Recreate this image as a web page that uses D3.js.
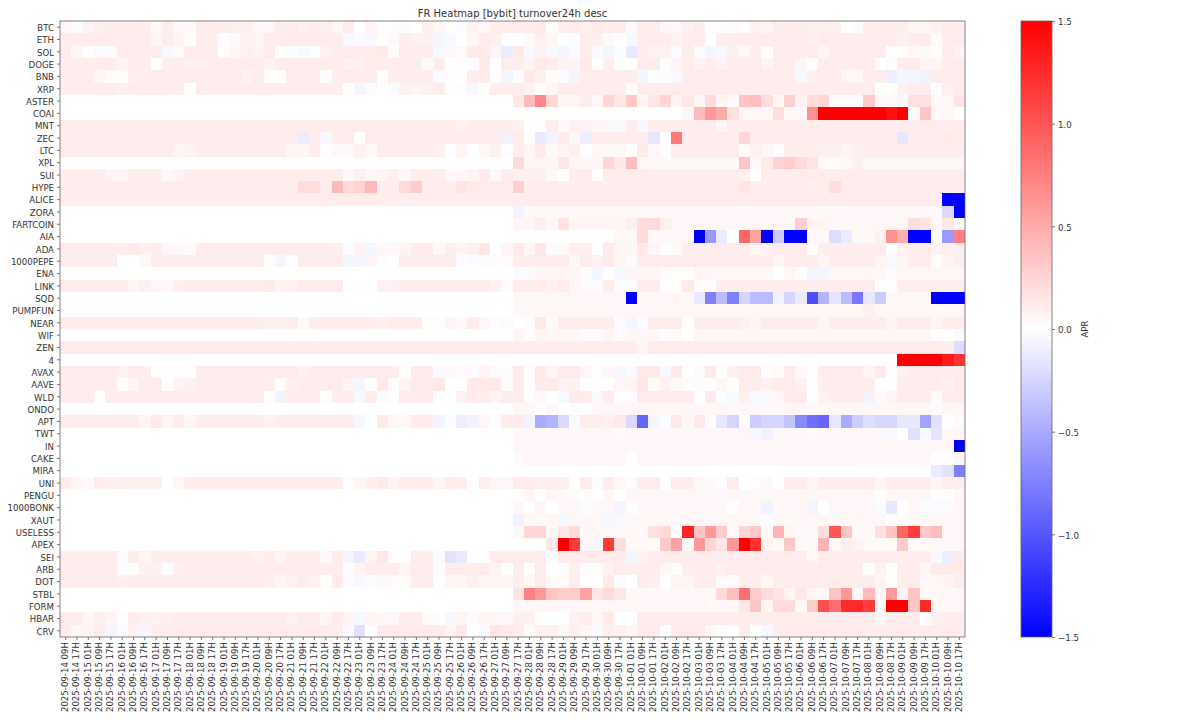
<!DOCTYPE html>
<html>
<head>
<meta charset="utf-8">
<script src="https://cdn.jsdelivr.net/npm/d3@7"></script>
<style>
html,body{margin:0;padding:0;background:#fff}
svg{display:block}
text{font-family:"DejaVu Sans",sans-serif;fill:#222}
</style>
</head>
<body>
<svg id="c" width="1200" height="720"></svg>
<script>
const titleText = "FR Heatmap [bybit] turnover24h desc";
const colorbarLabel = "APR";
const colorbarTicks = [-1.5,-1,-0.5,0,0.5,1,1.5];
const symbols = ["BTC","ETH","SOL","DOGE","BNB","XRP","ASTER","COAI","MNT","ZEC","LTC","XPL","SUI","HYPE","ALICE","ZORA","FARTCOIN","AIA","ADA","1000PEPE","ENA","LINK","SQD","PUMPFUN","NEAR","WIF","ZEN","4","AVAX","AAVE","WLD","ONDO","APT","TWT","IN","CAKE","MIRA","UNI","PENGU","1000BONK","XAUT","USELESS","APEX","SEI","ARB","DOT","STBL","FORM","HBAR","CRV"];
const timeLabels = ["2025-09-14 09H","2025-09-14 17H","2025-09-15 01H","2025-09-15 09H","2025-09-15 17H","2025-09-16 01H","2025-09-16 09H","2025-09-16 17H","2025-09-17 01H","2025-09-17 09H","2025-09-17 17H","2025-09-18 01H","2025-09-18 09H","2025-09-18 17H","2025-09-19 01H","2025-09-19 09H","2025-09-19 17H","2025-09-20 01H","2025-09-20 09H","2025-09-20 17H","2025-09-21 01H","2025-09-21 09H","2025-09-21 17H","2025-09-22 01H","2025-09-22 09H","2025-09-22 17H","2025-09-23 01H","2025-09-23 09H","2025-09-23 17H","2025-09-24 01H","2025-09-24 09H","2025-09-24 17H","2025-09-25 01H","2025-09-25 09H","2025-09-25 17H","2025-09-26 01H","2025-09-26 09H","2025-09-26 17H","2025-09-27 01H","2025-09-27 09H","2025-09-27 17H","2025-09-28 01H","2025-09-28 09H","2025-09-28 17H","2025-09-29 01H","2025-09-29 09H","2025-09-29 17H","2025-09-30 01H","2025-09-30 09H","2025-09-30 17H","2025-10-01 01H","2025-10-01 09H","2025-10-01 17H","2025-10-02 01H","2025-10-02 09H","2025-10-02 17H","2025-10-03 01H","2025-10-03 09H","2025-10-03 17H","2025-10-04 01H","2025-10-04 09H","2025-10-04 17H","2025-10-05 01H","2025-10-05 09H","2025-10-05 17H","2025-10-06 01H","2025-10-06 09H","2025-10-06 17H","2025-10-07 01H","2025-10-07 09H","2025-10-07 17H","2025-10-08 01H","2025-10-08 09H","2025-10-08 17H","2025-10-09 01H","2025-10-09 09H","2025-10-09 17H","2025-10-10 01H","2025-10-10 09H","2025-10-10 17H"];

// APR values, in hundredths, one array per symbol, one value per funding time
const BTC=[5,-2,7,9,11,11,11,11,4,10, 5,4,11,11,11,9,9,5,5,11, 11,8,11,10,5,11,0,7,-1,-1, -2,0,9,5,1,-2,8,5,11,11, 11,11,13,2,9,12,10,12,10,11, 3,11,11,5,5,8,11,2,2,3, 2,8,6,11,11,11,9,9,9,0, -2,11,11,11,11,6,6,8,11,11];
const ETH=[11,11,11,11,11,11,11,11,6,11, 7,2,11,10,-1,4,7,7,11,11, 11,11,11,11,11,-4,-3,-4,2,4, 10,8,8,-6,-4,0,6,11,9,-1, 0,4,8,6,-1,-3,11,8,3,1, -4,11,11,11,8,11,11,0,10,11, 11,11,11,11,11,11,8,11,11,11, 11,11,11,11,8,11,11,3,11,11];
const SOL=[11,5,0,-3,2,11,11,11,11,-4, 3,11,11,11,1,6,8,7,11,1, -2,-4,-1,8,11,11,11,11,13,1, 11,11,11,-4,4,3,13,13,6,-11, 13,-4,8,-4,-6,-3,11,-3,-6,-3, -13,11,8,8,-3,11,-2,-6,-4,9, 5,11,0,11,11,11,11,6,11,11, 11,11,11,1,1,5,4,2,11,7];
const DOGE=[11,11,11,11,11,7,11,11,0,9, 11,8,8,11,11,11,11,11,7,11, 11,11,11,11,11,7,8,11,11,11, 11,11,3,11,1,-1,-1,13,0,11, 11,7,13,11,7,7,13,0,11,-1, 0,11,11,-1,7,11,7,11,7,11, 11,11,6,11,11,6,0,11,11,11, 11,11,0,-2,12,12,6,6,11,11];
const BNB=[11,11,11,6,2,2,9,10,11,11, 11,11,11,11,11,11,7,11,1,1, 11,11,11,-2,11,11,11,11,0,11, 11,11,11,-3,2,0,11,11,2,-6, -1,13,9,2,-3,-6,11,11,11,11, 11,-6,-1,-2,-4,11,11,11,11,11, 11,11,11,11,11,-4,9,11,11,5, 5,11,11,-10,-6,-6,-8,11,11,11];
const XRP=[11,11,11,11,11,9,11,10,10,11, 11,0,11,11,11,11,11,11,11,11, 11,11,11,11,11,0,-6,-3,0,-3, 8,7,9,12,2,-1,-5,0,11,11, 11,8,-1,6,11,11,11,11,11,11, 3,11,11,11,11,11,11,11,11,11, 11,11,11,11,11,11,11,11,11,11, 11,11,0,0,8,11,11,0,8,11];
const ASTER=[0,0,0,0,0,0,0,0,0,0, 0,0,0,0,0,0,0,0,0,0, 0,0,0,0,0,0,0,0,0,0, 0,0,0,0,0,0,0,0,0,0, 14,40,70,25,6,6,11,5,25,15, 32,6,15,25,6,14,6,22,6,4, 35,38,20,5,28,8,20,25,3,3, 3,30,4,4,4,18,18,5,5,14];
const COAI=[0,0,0,0,0,0,0,0,0,0, 0,0,0,0,0,0,0,0,0,0, 0,0,0,0,0,0,0,0,0,0, 0,0,0,0,0,0,0,0,0,0, 0,0,0,0,0,0,0,0,0,0, 0,0,0,0,0,5,40,60,50,18, 5,5,5,20,4,4,65,150,150,150, 150,150,150,140,150,4,35,5,5,0];
const MNT=[11,11,11,11,11,11,11,11,11,11, 11,11,11,11,11,11,11,11,11,11, 11,11,11,11,11,11,11,11,11,11, 11,11,11,11,11,8,11,11,11,11, 9,0,0,12,4,8,8,6,-4,4, 11,-5,11,11,11,11,11,11,5,11, 11,11,11,11,11,11,11,11,11,11, 11,11,11,11,11,11,11,11,11,11];
const ZEC=[11,11,11,11,11,11,11,11,11,11, 11,11,11,11,11,11,11,11,11,11, 11,-11,11,-5,11,11,0,11,11,11, 11,11,11,11,11,11,11,11,11,-8, 12,-1,-13,-7,12,5,-10,11,11,11, 11,11,-15,-1,78,11,11,11,11,11, 24,11,11,11,11,11,11,11,11,11, 11,11,11,11,-15,11,11,11,13,11];
const LTC=[11,11,11,11,11,11,11,11,11,11, 6,8,11,11,11,11,11,11,11,11, 6,6,11,2,5,4,8,5,11,11, 11,11,11,9,-1,6,0,5,9,-1, 11,6,13,4,7,9,-1,5,5,4, 1,13,5,-1,11,11,11,11,11,11, 3,8,5,-1,11,11,11,9,10,6, 8,11,11,11,11,11,11,11,11,11];
const XPL=[0,0,0,0,0,0,0,0,0,0, 0,0,0,0,0,0,0,0,0,0, 0,0,0,0,0,0,0,0,0,0, 0,0,0,0,0,0,0,0,0,0, 22,6,6,6,14,6,6,6,24,14, 38,5,4,4,4,4,4,4,4,4, 35,4,13,26,30,22,16,3,3,4, 9,4,4,4,4,4,4,4,4,4];
const SUI=[11,11,11,11,6,6,10,10,10,4, 6,11,11,11,11,11,11,11,11,11, 11,11,11,11,11,5,9,5,6,9, 5,11,11,10,4,4,7,12,3,11, 9,9,9,4,0,11,11,0,11,11, 11,11,11,11,11,11,11,11,11,11, 9,0,11,11,11,11,11,11,11,11, 11,11,11,11,11,11,11,11,11,11];
const HYPE=[11,11,11,11,11,11,11,11,11,11, 11,11,11,11,11,11,11,11,11,11, 11,20,20,11,40,22,26,42,11,11, 22,30,11,11,11,16,13,11,11,11, 28,11,11,11,11,11,11,11,11,11, 11,11,11,11,11,11,11,11,11,11, 16,11,11,11,11,11,9,11,20,11, 11,11,11,11,11,11,11,11,11,11];
const ALICE=[11,11,11,11,11,11,11,11,11,11, 11,11,11,11,11,11,11,11,11,11, 11,11,11,11,11,11,11,11,11,11, 11,11,11,11,11,11,11,11,11,11, 11,11,11,11,11,11,11,11,11,11, 11,11,11,11,11,11,11,11,11,11, 11,11,11,11,11,11,11,11,11,11, 11,11,11,11,11,11,11,11,-150,-150];
const ZORA=[0,0,0,0,0,0,0,0,0,0, 0,0,0,0,0,0,0,0,0,0, 0,0,0,0,0,0,0,0,0,0, 0,0,0,0,0,0,0,0,0,0, -7,4,4,4,4,4,4,4,4,4, 4,4,4,4,4,4,4,4,4,4, 4,4,4,4,4,4,4,4,4,4, 4,4,4,4,4,4,4,4,-22,-150];
const FARTCOIN=[0,0,0,0,0,0,0,0,0,0, 0,0,0,0,0,0,0,0,0,0, 0,0,0,0,0,0,0,0,0,0, 0,0,0,0,0,0,0,0,0,0, 5,5,11,5,16,6,6,6,6,6, 9,20,22,9,5,5,5,5,5,5, 5,5,5,5,5,28,7,7,5,5, 5,5,5,5,5,20,16,5,14,5];
const AIA=[0,0,0,0,0,0,0,0,0,0, 0,0,0,0,0,0,0,0,0,0, 0,0,0,0,0,0,0,0,0,0, 0,0,0,0,0,0,0,0,0,0, 0,0,0,0,0,0,0,0,0,5, 5,22,4,4,4,5,-150,-60,-12,0, 90,55,-150,-30,-150,-150,4,4,-20,-12, 4,4,8,65,48,-150,-150,0,-60,75];
const ADA=[11,11,11,11,11,10,13,8,11,5, 5,3,11,11,11,11,11,11,11,11, 11,11,11,11,10,-2,7,-6,5,5, 7,12,12,4,10,6,9,14,1,6, 12,4,14,3,4,11,9,0,12,6, 5,13,6,0,3,10,10,11,11,11, 11,5,8,11,11,11,1,11,11,11, 11,11,11,1,8,11,11,8,10,10];
const PEPE1000=[11,11,11,11,11,0,0,4,11,11, 11,11,11,11,11,11,11,11,0,-6, -1,11,11,11,11,-6,-6,7,-2,0, 11,11,11,11,11,-1,-3,-3,3,3, 11,11,11,11,11,5,12,8,12,6, -3,11,11,11,11,11,11,11,11,11, 11,11,11,6,11,11,11,6,11,11, 11,11,7,-4,6,11,11,2,7,10];
const ENA=[0,0,0,0,0,0,0,0,0,0, 0,0,0,0,0,0,0,0,0,0, 0,0,0,0,0,0,0,0,0,0, 0,0,0,0,0,0,0,0,0,0, -3,-3,6,6,6,6,-2,-6,1,-5, 6,6,6,3,2,2,6,5,5,5, 5,5,5,0,5,0,-6,-6,5,5, 5,5,5,-2,5,5,5,5,5,5];
const LINK=[11,11,11,11,11,11,6,9,5,4, 9,11,11,11,11,11,11,11,13,7, 8,12,12,12,12,-1,1,0,8,8, 11,11,11,11,11,11,11,11,8,-2, 11,11,11,8,12,5,-2,-2,11,-2, -2,12,11,1,1,13,3,1,11,11, 11,11,11,11,11,11,11,11,11,11, 11,11,0,1,10,10,10,10,10,10];
const SQD=[0,0,0,0,0,0,0,0,0,0, 0,0,0,0,0,0,0,0,0,0, 0,0,0,0,0,0,0,0,0,0, 0,0,0,0,0,0,0,0,0,0, 5,5,5,5,5,5,5,5,5,5, -150,5,5,5,5,5,-13,-75,-40,-75, -25,-40,-40,-8,-25,-13,-105,-45,-16,-40, -80,-15,-30,5,5,5,5,-150,-150,-150];
const PUMPFUN=[0,0,0,0,0,0,0,0,0,0, 0,0,0,0,0,0,0,0,0,0, 0,0,0,0,0,0,0,0,0,0, 0,0,0,0,0,0,0,0,0,0, 5,5,5,5,5,5,5,5,5,5, 5,5,5,5,5,5,5,5,5,5, 5,5,5,5,5,5,5,5,5,5, 5,9,5,5,5,5,5,5,5,5];
const NEAR=[11,11,11,11,11,11,11,11,11,11, 11,11,11,11,11,11,11,11,9,9, 11,3,11,11,11,11,11,11,8,11, 11,11,2,2,7,4,12,5,1,-3, 0,-2,13,3,11,11,11,11,11,-3, -6,-2,11,11,11,0,11,11,11,11, 9,6,11,11,11,11,11,6,11,11, 11,11,11,6,11,11,11,7,11,11];
const WIF=[0,0,0,0,0,0,0,0,0,0, 0,0,0,0,0,0,0,0,0,0, 0,0,0,0,0,0,0,0,0,0, 0,0,0,0,0,0,0,0,0,0, 6,2,7,6,5,5,-3,-3,7,3, 5,5,5,-1,3,0,6,5,5,5, 5,5,5,5,5,5,5,5,5,5, 5,5,5,5,5,5,5,0,0,-3];
const ZEN=[11,11,11,11,11,11,11,11,11,11, 11,11,11,11,11,11,11,11,11,11, 11,11,11,11,11,11,11,11,11,11, 11,11,11,11,11,11,11,11,11,11, 11,11,11,11,11,11,11,11,11,11, 11,6,11,11,11,11,11,11,11,11, 11,11,11,11,11,11,11,11,11,11, 11,11,11,11,11,11,11,11,11,-20];
const FOUR=[0,0,0,0,0,0,0,0,0,0, 0,0,0,0,0,0,0,0,0,0, 0,0,0,0,0,0,0,0,0,0, 0,0,0,0,0,0,0,0,0,0, 0,0,0,0,0,0,0,0,0,0, 0,0,0,0,0,0,0,0,0,0, 0,0,0,0,0,0,0,0,0,0, 0,0,0,0,150,150,150,150,135,120];
const AVAX=[11,11,11,11,11,8,11,11,0,1, 2,-1,11,11,11,11,11,11,11,11, 11,8,11,11,11,11,11,11,11,11, 1,12,12,-3,4,3,-2,7,-2,-2, 12,2,13,6,12,12,5,-1,5,-5, -3,13,13,-4,13,1,-3,12,0,9, 12,12,-1,3,12,4,-1,11,11,11, 11,6,13,0,9,11,11,11,11,11];
const AAVE=[11,11,11,11,11,2,6,11,11,0, 7,8,11,11,11,11,11,11,9,2, 8,11,11,11,11,6,-6,0,13,2, 7,12,12,13,0,0,13,13,13,-2, 12,2,12,12,8,8,-1,1,1,5, 6,14,3,8,4,2,-2,1,5,1, 12,11,8,12,12,8,0,11,11,11, 11,11,1,1,11,11,11,11,8,12];
const WLD=[11,11,11,0,11,11,11,11,11,11, 11,11,11,11,11,11,11,11,0,-7, 11,11,11,2,11,12,-4,12,-3,1, 12,12,12,-1,0,8,12,12,6,12, 12,-1,5,0,-4,12,12,-4,12,-1, -1,12,12,12,12,12,0,12,-1,-4, 9,-4,-4,5,12,12,-1,8,11,11, 11,-7,4,7,11,11,11,-2,11,11];
const ONDO=[0,0,0,0,0,0,0,0,0,0, 0,0,0,0,0,0,0,0,0,0, 0,0,0,0,0,0,0,0,0,0, 0,0,0,0,0,0,0,0,0,0, 5,5,1,5,0,-1,0,5,5,5, 5,5,5,5,5,5,5,5,5,5, 5,5,5,5,5,5,5,5,5,5, 5,5,5,5,5,5,5,3,5,5];
const APT=[11,11,11,11,11,11,11,6,13,6, 11,6,11,11,11,11,11,11,8,11, 11,11,11,11,11,11,-5,0,13,5, 4,12,12,-7,-2,-10,-7,5,-2,12, 12,-7,-50,-45,-22,-4,12,10,8,13, -22,-90,-6,-2,13,5,13,2,-14,-25, 1,-30,-25,-25,-35,-70,-85,-90,-14,-50, -30,-20,-24,-24,-14,-14,-55,-18,1,-3];
const TWT=[0,0,0,0,0,0,0,0,0,0, 0,0,0,0,0,0,0,0,0,0, 0,0,0,0,0,0,0,0,0,0, 0,0,0,0,0,0,0,0,0,0, 5,5,5,5,5,5,5,5,5,3, 5,5,5,5,5,5,5,5,5,5, 5,-5,-7,5,5,5,3,5,5,5, 5,5,5,-4,1,-18,-4,-16,5,5];
const IN=[0,0,0,0,0,0,0,0,0,0, 0,0,0,0,0,0,0,0,0,0, 0,0,0,0,0,0,0,0,0,0, 0,0,0,0,0,0,0,0,0,0, 5,5,5,5,5,5,5,5,5,5, 5,5,5,5,5,5,5,5,5,5, 5,5,5,5,5,5,5,5,5,5, 5,5,5,5,5,5,5,5,5,-150];
const CAKE=[0,0,0,0,0,0,0,0,0,0, 0,0,0,0,0,0,0,0,0,0, 0,0,0,0,0,0,0,0,0,0, 0,0,0,0,0,0,0,0,0,0, -3,5,5,5,5,5,5,5,5,5, 1,5,5,5,5,5,5,5,5,5, 5,5,5,5,5,5,5,5,5,5, 5,5,5,5,5,5,5,-1,-1,5];
const MIRA=[0,0,0,0,0,0,0,0,0,0, 0,0,0,0,0,0,0,0,0,0, 0,0,0,0,0,0,0,0,0,0, 0,0,0,0,0,0,0,0,0,0, 0,0,0,0,0,0,0,0,0,0, 0,0,0,0,0,0,0,0,0,0, 0,0,0,0,0,0,0,0,0,0, 1,1,1,1,1,1,1,-12,-18,-75];
const UNI=[11,6,3,11,8,9,10,9,9,0, 5,11,11,11,11,11,11,11,11,11, 11,11,11,11,11,-1,6,9,13,7, 11,11,11,6,12,10,0,10,5,5, 12,12,10,10,10,0,12,-2,12,5, -2,11,12,0,11,11,5,3,-1,12, 0,2,4,0,11,11,6,11,11,11, 11,11,6,11,11,11,11,6,10,10];
const PENGU=[0,0,0,0,0,0,0,0,0,0, 0,0,0,0,0,0,0,0,0,0, 0,0,0,0,0,0,0,0,0,0, 0,0,0,0,0,0,0,0,0,0, 2,6,1,6,4,-2,2,1,5,0, 5,5,5,5,5,5,5,5,5,5, 5,5,5,5,5,5,5,5,5,5, 5,5,-1,5,5,5,5,1,1,5];
const BONK1000=[0,0,0,0,0,0,0,0,0,0, 0,0,0,0,0,0,0,0,0,0, 0,0,0,0,0,0,0,0,0,0, 0,0,0,0,0,0,0,0,0,0, 5,0,6,0,5,5,-2,5,5,-6, -1,5,5,5,5,5,5,5,5,1, 5,5,-8,5,5,5,-6,0,5,5, 5,5,-3,-14,1,5,-3,-3,-3,5];
const XAUT=[0,0,0,0,0,0,0,0,0,0, 0,0,0,0,0,0,0,0,0,0, 0,0,0,0,0,0,0,0,0,0, 0,0,0,0,0,0,0,0,0,0, -8,5,3,6,-5,5,5,5,-5,-4, 5,5,5,5,5,5,5,5,5,5, 5,5,-3,5,3,5,5,5,5,5, 5,5,5,2,2,5,5,5,5,5];
const USELESS=[0,0,0,0,0,0,0,0,0,0, 0,0,0,0,0,0,0,0,0,0, 0,0,0,0,0,0,0,0,0,0, 0,0,0,0,0,0,0,0,0,0, 5,24,24,5,14,22,5,5,5,5, 5,5,18,22,1,130,35,60,30,3, 24,32,3,45,6,4,4,20,100,33, 3,4,18,35,90,115,32,38,5,5];
const APEX=[0,0,0,0,0,0,0,0,0,0, 0,0,0,0,0,0,0,0,0,0, 0,0,0,0,0,0,0,0,0,0, 0,0,0,0,0,0,0,0,0,0, 0,0,0,14,150,115,4,4,115,20, 4,4,4,30,55,3,60,25,15,60, 150,120,6,4,32,4,4,45,4,10, 7,4,4,4,30,4,4,4,4,4];
const SEI=[11,11,11,11,11,-2,12,6,11,11, 11,11,11,11,11,11,11,8,12,6, 11,11,11,4,12,-6,-13,7,14,1, 2,12,12,-3,-17,-13,-1,0,12,12, 12,12,12,-2,12,12,12,12,12,12, -6,8,11,11,11,11,11,11,11,11, 11,11,11,11,11,11,4,11,11,11, 11,11,11,11,11,11,11,-4,-10,12];
const ARB=[11,11,11,11,11,-2,0,9,8,-2, 8,11,11,11,11,11,11,11,11,11, 11,11,11,11,11,-1,7,11,11,11, 7,11,11,-2,11,11,11,11,7,0, 11,0,11,0,-1,10,-2,2,7,11, 11,11,11,5,2,10,10,10,7,11, 11,11,11,11,11,11,11,11,11,11, 11,0,8,0,11,11,6,12,12,12];
const DOT=[11,11,11,11,11,9,11,11,11,11, 11,11,11,11,11,11,11,11,9,6, 8,11,8,2,12,-2,-4,-2,4,3, 3,11,11,1,6,6,9,6,6,6, 11,5,12,3,3,11,0,0,13,-3, 0,11,9,0,7,6,11,11,3,3, 11,11,6,11,11,11,11,11,11,11, 11,11,7,0,11,11,5,5,7,11];
const STBL=[0,0,0,0,0,0,0,0,0,0, 0,0,0,0,0,0,0,0,0,0, 0,0,0,0,0,0,0,0,0,0, 0,0,0,0,0,0,0,0,0,0, 17,75,60,35,30,30,55,15,22,15, 4,4,4,4,4,4,4,4,22,38, 85,30,22,16,6,14,5,4,35,60, 5,40,5,60,5,35,4,4,4,4];
const FORM=[0,0,0,0,0,0,0,0,0,0, 0,0,0,0,0,0,0,0,0,0, 0,0,0,0,0,0,0,0,0,0, 0,0,0,0,0,0,0,0,0,0, 5,5,5,5,5,5,5,5,5,5, 5,5,5,5,5,5,5,5,5,5, 14,35,5,22,22,5,30,105,85,125, 125,115,4,150,150,35,125,5,5,5];
const HBAR=[11,11,5,10,6,2,11,9,8,9, 11,11,11,11,11,11,11,11,11,11, 8,11,11,6,12,7,-4,7,4,5, 11,11,3,2,-5,7,3,7,5,5, 9,9,0,0,-1,8,11,5,13,0, 0,11,11,11,11,11,11,11,11,11, 11,11,11,11,11,11,11,11,11,11, 11,11,5,11,11,11,0,9,10,12];
const CRV=[11,6,6,11,-6,-3,8,-6,11,11, 11,11,11,11,11,11,11,11,11,11, 11,11,11,11,11,-2,-17,0,12,12, 12,12,12,12,7,13,1,-3,14,11, 11,3,9,9,5,9,5,-3,10,8, 5,11,11,-1,11,11,11,4,2,0, 11,0,-5,11,11,11,11,11,11,11, 11,11,11,11,11,11,11,11,11,11];

const rows=[BTC,ETH,SOL,DOGE,BNB,XRP,ASTER,COAI,MNT,ZEC,LTC,XPL,SUI,HYPE,ALICE,ZORA,FARTCOIN,AIA,ADA,PEPE1000,ENA,LINK,SQD,PUMPFUN,NEAR,WIF,ZEN,FOUR,AVAX,AAVE,WLD,ONDO,APT,TWT,IN,CAKE,MIRA,UNI,PENGU,BONK1000,XAUT,USELESS,APEX,SEI,ARB,DOT,STBL,FORM,HBAR,CRV];
rows.forEach((r,i)=>{ if(r.length!==timeLabels.length) throw new Error(symbols[i]+" has "+r.length); });

const L=60,R=965,T=21,B=637,CL=1021,CR=1052;
const svg=d3.select("#c");
const x=d3.scaleBand().domain(timeLabels).range([L,R]);
const y=d3.scaleBand().domain(symbols).range([T,B]);
const color=d3.scaleLinear().domain([-1.5,0,1.5]).range(["#0000ff","#ffffff","#ff0000"]).clamp(true);

const cells=[];
rows.forEach((r,i)=>r.forEach((v,j)=>cells.push({s:symbols[i],t:timeLabels[j],v:v/100})));
svg.append("g").selectAll("rect").data(cells).join("rect")
  .attr("x",d=>x(d.t)).attr("y",d=>y(d.s))
  .attr("width",x.bandwidth()).attr("height",y.bandwidth())
  .attr("fill",d=>color(d.v)).attr("shape-rendering","crispEdges");

function styleAxis(g){
  g.selectAll(".domain").remove();
  g.selectAll("line").attr("stroke","#444").attr("stroke-width",0.7);
  g.selectAll("text").style("font-size","8.6px").style("font-family",'"DejaVu Sans",sans-serif').style("fill","#333");
}
const gy=svg.append("g").attr("transform",`translate(${L},0)`).call(d3.axisLeft(y).tickSize(3).tickPadding(3));
styleAxis(gy);
gy.selectAll("text").attr("transform","translate(0,1)");
const gx=svg.append("g").attr("transform",`translate(0,${B})`).call(d3.axisBottom(x).tickSize(3).tickPadding(3));
styleAxis(gx);
gx.selectAll("text").attr("text-anchor","end").attr("dominant-baseline","middle").attr("dy",0)
  .attr("transform","translate(0,5) rotate(-90)").attr("x",0).attr("y",0);

svg.append("rect").attr("x",L).attr("y",T).attr("width",R-L).attr("height",B-T)
  .attr("fill","none").attr("stroke","#666").attr("stroke-width",0.8);

svg.append("text").attr("x",(L+R)/2).attr("y",17).attr("text-anchor","middle")
  .style("font-size","10px").style("fill","#333").text(titleText);

// colourbar
const defs=svg.append("defs");
const grad=defs.append("linearGradient").attr("id","cb").attr("x1",0).attr("x2",0).attr("y1",1).attr("y2",0);
grad.selectAll("stop").data([-1.5,0,1.5]).join("stop")
  .attr("offset",d=>(d+1.5)/3).attr("stop-color",d=>color(d));
const cy=d3.scaleLinear().domain([-1.5,1.5]).range([B,T]);
svg.append("rect").attr("x",CL).attr("y",T).attr("width",CR-CL).attr("height",B-T)
  .attr("fill","url(#cb)").attr("stroke","#666").attr("stroke-width",0.8);
const fmt=d=>d3.format(".1f")(d).replace("-","\u2212");
const gc=svg.append("g").attr("transform",`translate(${CR},0)`)
  .call(d3.axisRight(cy).tickValues(colorbarTicks).tickFormat(fmt).tickSize(3).tickPadding(3));
styleAxis(gc);
gc.selectAll("text").attr("transform","translate(0,1)");
svg.append("text").attr("transform",`translate(1088,${(T+B)/2}) rotate(-90)`)
  .attr("text-anchor","middle").style("font-size","8.6px").style("fill","#333").text(colorbarLabel);
</script>
</body>
</html>
